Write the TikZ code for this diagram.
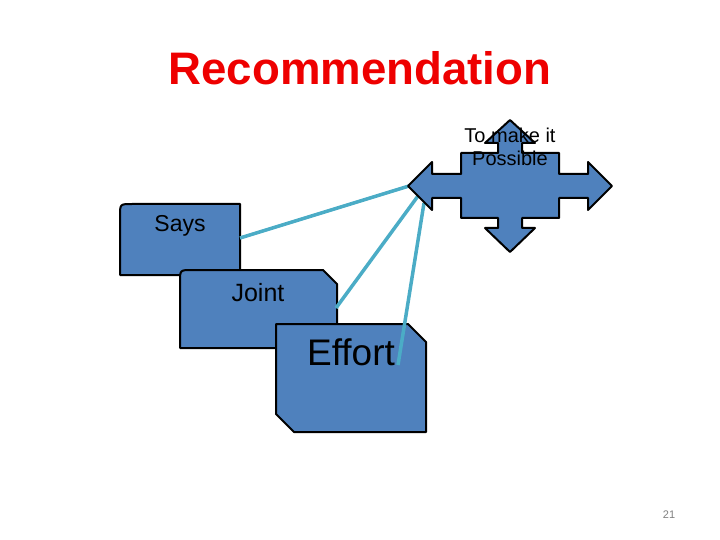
\documentclass[tikz,border=0pt]{standalone}
\usepackage{fontspec}
\setmainfont{Liberation Sans}
\usepackage{xcolor}
\usetikzlibrary{positioning}
\definecolor{shapeblue}{RGB}{79,129,189}
\definecolor{linkteal}{RGB}{75,172,198}
\definecolor{titlered}{RGB}{238,0,0}

\begin{document}
\begin{tikzpicture}[
          x=1pt, y=-1pt,
          shapebox/.style={draw=black, fill=shapeblue, line width=2pt, line join=round},
          link/.style={draw=linkteal, line width=3.5pt},
          boxtext/.style={text=black, inner sep=0pt, anchor=base}
        ]
          \useasboundingbox (0,0) rectangle (720,540);

          % Title
          \node[font=\fontsize{45.6}{50}\selectfont\bfseries, text=titlered, inner sep=0pt] (title) at (360,68) {Recommendation};

          % Stacked boxes
          \draw[shapebox] (120,275) -- (120,216) .. controls (120,204) .. (132,204) -- (240,204) -- (240,275) -- cycle;
          \draw[shapebox] (180,348) -- (180,282) .. controls (180,270) .. (192,270) -- (323,270) -- (337,284) -- (337,348) -- cycle;
          \draw[shapebox] (276,324) -- (408,324) -- (426,342) -- (426,432) -- (294,432) -- (276,414) -- cycle;

          % Connector ends
          \coordinate (saysend) at (240,238);
          \coordinate (jointend) at (336,308);
          \coordinate (effortend) at (398,365);
          \coordinate (tipa) at (409,186);
          \coordinate (tipb) at (418,196);
          \coordinate (tipc) at (424,203);

          \draw[link] (saysend) -- (tipa);
          \draw[link] (jointend) -- (tipb);
          \draw[link] (effortend) -- (tipc);

          % Four-way arrow
          \draw[shapebox] (510,120) -- (535,143) -- (522,143) -- (522,153) -- (559,153) -- (559,174)
            -- (588,174) -- (588,162) -- (612,186) -- (588,210) -- (588,198) -- (559,198)
            -- (559,218) -- (522,218) -- (522,228) -- (535,228) -- (510,252) -- (485,228)
            -- (498,228) -- (498,218) -- (461,218) -- (461,198) -- (432,198) -- (432,210)
            -- (408,186) -- (432,162) -- (432,174) -- (461,174) -- (461,153) -- (498,153)
            -- (498,143) -- (485,143) -- cycle;

          % Labels
          \node[boxtext, font=\fontsize{23}{27}\selectfont] (says) at (180,231) {Says};
          \node[boxtext, font=\fontsize{25}{29}\selectfont] (joint) at (258,301) {Joint};
          \node[boxtext, font=\fontsize{37}{42}\selectfont] (effort) at (351,365) {Effort};
          \node[font=\fontsize{20}{23}\selectfont, align=center, inner sep=0pt] (possible) at (510,147) {To make it\\Possible};

          % Slide number
          \node[font=\fontsize{11}{13}\selectfont, text=gray, inner sep=0pt] (pagenum) at (669,515) {21};
        \end{tikzpicture}
\end{document}
